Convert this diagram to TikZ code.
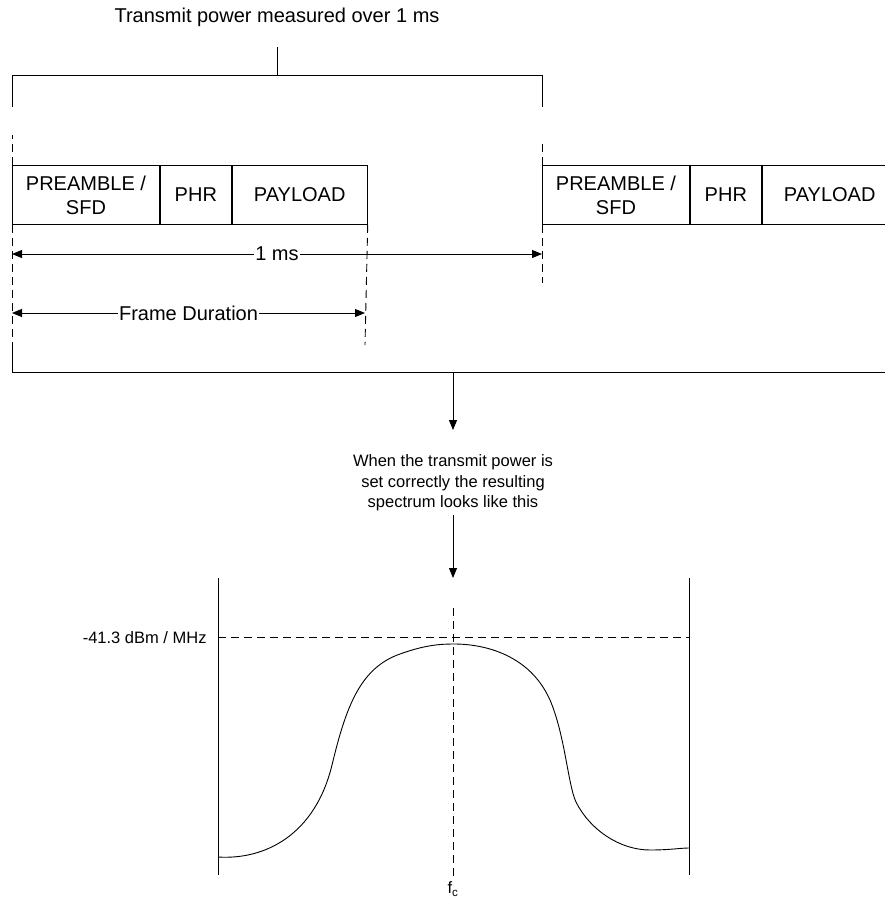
\documentclass[tikz,border=0pt]{standalone}
\usepackage{fontspec}
\setmainfont{Liberation Sans}
\usetikzlibrary{positioning,arrows.meta}
\tikzset{
	field/.style = {draw, inner sep=0pt, minimum height=59pt, align=center,
	  font=\fontsize{20}{24}\selectfont},
	bigtext/.style = {font=\fontsize{20}{24}\selectfont},
	smalltext/.style = {font=\fontsize{16.5}{20.5}\selectfont, align=center},
	}
\tikzset{
	tip/.style = {-{Triangle[length=10pt,width=8pt]}},
	twotip/.style = {{Triangle[length=10pt,width=8pt]}-{Triangle[length=10pt,width=8pt]}},
	dashline/.style = {dash pattern=on 8pt off 5pt},
	}

\begin{document}
\begin{tikzpicture}[x=1pt, y=-1pt, line width=0.9pt]
\useasboundingbox (0,0) rectangle (885,898);

% NODES

% frames
\node (title) [bigtext] at (277,17) {Transmit power measured over 1 ms};
\node (pre1) [field, minimum width=147pt, anchor=north west] at (12,165) {PREAMBLE /\\SFD};
\node (phr1) [field, minimum width=71pt, right=0pt of pre1] {PHR};
\node (pay1) [field, minimum width=135pt, right=0pt of phr1] {PAYLOAD};
\node (pre2) [field, minimum width=147pt, anchor=north west] at (542,165) {PREAMBLE /\\SFD};
\node (phr2) [field, minimum width=71pt, right=0pt of pre2] {PHR};
\node (pay2) [field, minimum width=135pt, right=0pt of phr2] {PAYLOAD};

% note, spectrum
\node (note) [smalltext] at (453,483) {When the transmit power is\\set correctly the resulting\\spectrum looks like this};
\coordinate (axl) at (218,578);
\coordinate (axr) at (689,578);
\node (level) [smalltext, anchor=east, inner sep=0pt] at (207,638) {-41.3 dBm / MHz};
\node (fc) [smalltext] at (453,889) {f\textsubscript{c}};

% BRACKETS
\coordinate (topmid) at (277,47);
\coordinate (brkmid) at (453,372);
\draw (topmid) -- (277,75);
\draw (12,107) -- (12,75) -- (542,75) -- (542,107);
\draw (12,343) |- (885,372);

% dashed marks
\draw [dashline] (pre1.north west) -- ++(0,-30);
\draw [dashline] (pre1.south west) -- (12,343);
\draw [dashline] (pay1.south east) -- (365,345);
\draw [dashline] (pre2.north west) -- ++(0,-24);
\draw [dashline] (pre2.south west) -- (542,283);

%CONNECTIONS
\draw [twotip] (12,254) -- node [bigtext, fill=white, inner sep=1pt] {1 ms} (542,254);
\draw [twotip] (12,313) -- node [bigtext, fill=white, inner sep=1pt] {Frame Duration} (365,313);
\draw [tip, shorten >=21pt] (brkmid) -- (note.north);
\draw [tip] (note.south) -- (note.south |- axl);

% spectrum
\draw (axl) -- (218,875);
\draw (axr) -- (689,875);
\draw [dashline] (218,637) -- (689,637);
\draw [dashline] (453,608) -- (fc.north);
\draw (218,857) .. controls (265,860) and (315,835) .. (332,765)
  .. controls (346,707) and (360,668) .. (400,654)
  .. controls (425,645) and (440,644) .. (454,644)
  .. controls (485,644) and (530,655) .. (550,700)
  .. controls (565,735) and (568,785) .. (576,802)
  .. controls (590,830) and (620,850) .. (650,850)
  .. controls (670,850) and (680,848) .. (689,848);

\end{tikzpicture}
\end{document}
